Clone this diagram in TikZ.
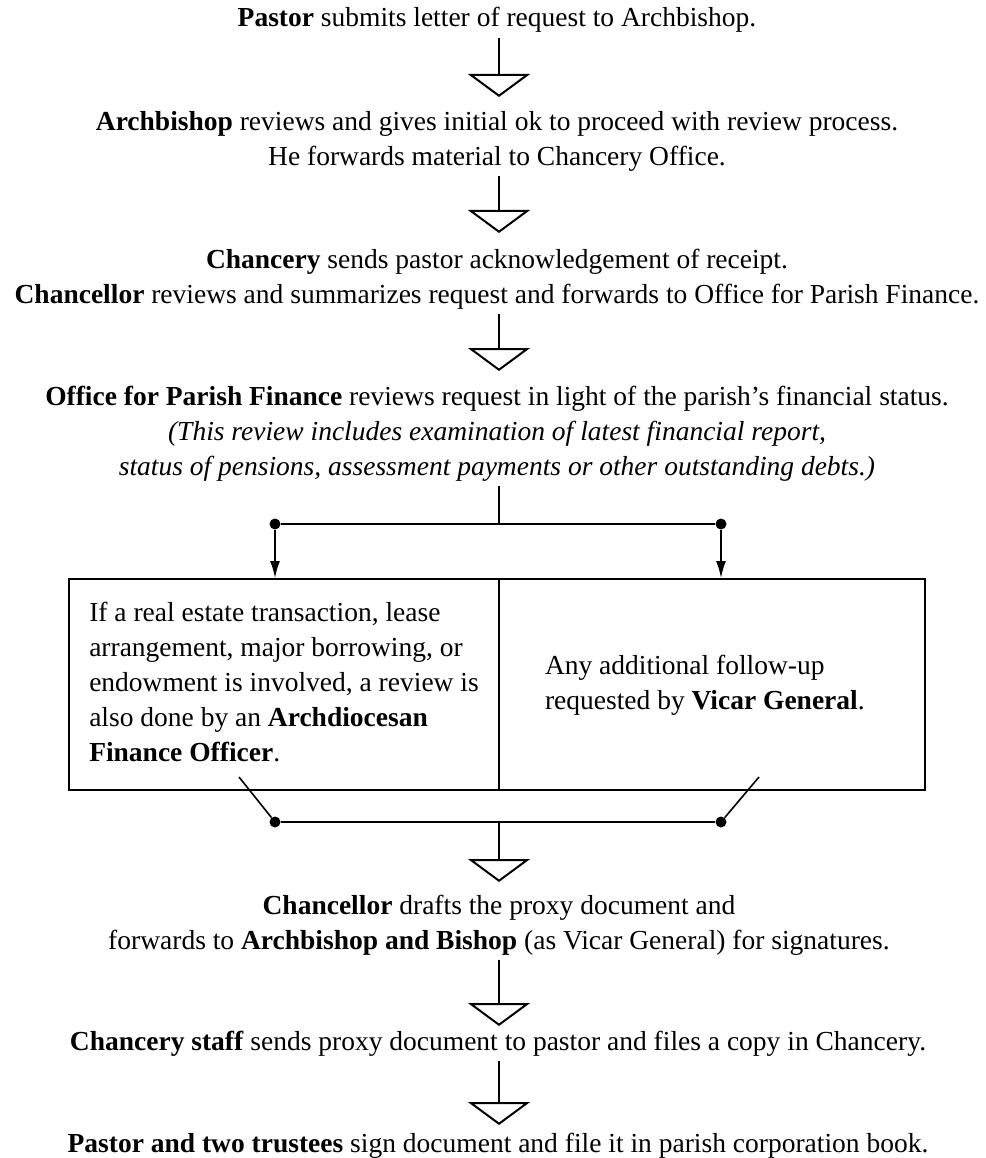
\documentclass[tikz,border=0pt]{standalone}
\usepackage{fontspec}
\setmainfont{Liberation Serif}
\usetikzlibrary{arrows.meta}
\begin{document}
\begin{tikzpicture}[x=1pt,y=-1pt,
  txt/.style={inner sep=0pt, align=center, font=\fontsize{27.5}{35}\selectfont},
  line/.style={line width=1.6pt},
  flow/.style={line width=1.6pt, -{Triangle[open,length=23pt,width=62pt,line width=2pt]}},
  down/.style={line width=1.6pt, -{Latex[length=17pt,width=10pt]}},
  dot/.style={circle, fill=black, inner sep=0pt, minimum size=11pt},
  cell/.style={draw, line width=2pt, inner sep=0pt, align=left, minimum height=211pt,
    font=\fontsize{27.5}{35}\selectfont}]
\useasboundingbox (0,0) rectangle (985,1158);

% text nodes
\node[txt] (n1) at (497,20) {\strut\textbf{Pastor} submits letter of request to Archbishop.};
\node[txt] (n2) at (497,141) {\strut\textbf{Archbishop} reviews and gives initial ok to proceed with review process.\\
  \strut He forwards material to Chancery Office.};
\node[txt] (n3) at (497,279) {\strut\textbf{Chancery} sends pastor acknowledgement of receipt.\\
  \strut\textbf{Chancellor} reviews and summarizes request and forwards to Office for Parish Finance.};
\node[txt] (n4) at (497,433) {\strut\textbf{Office for Parish Finance} reviews request in light of the parish's financial status.\\
  \strut\textit{(This review includes examination of latest financial report,}\\
  \strut\textit{status of pensions, assessment payments or other outstanding debts.)}};
\node[cell, minimum width=430pt] (L) at (284,684.5) {\strut If a real estate transaction, lease\\
  \strut arrangement, major borrowing, or\\
  \strut endowment is involved, a review is\\
  \strut also done by an \textbf{Archdiocesan}\\
  \strut\textbf{Finance Officer}.};
\node[cell, minimum width=426pt, text width=334pt, inner xsep=46pt, align=flush left] (R) at (712,684.5) {\strut Any additional follow-up\\
  \strut requested by \textbf{Vicar General}.};
\node[txt] (n5) at (499,924.5) {\strut\textbf{Chancellor} drafts the proxy document and\\
  \strut forwards to \textbf{Archbishop and Bishop} (as Vicar General) for signatures.};
\node[txt] (n6) at (498,1043) {\strut\textbf{Chancery staff} sends proxy document to pastor and files a copy in Chancery.};
\node[txt] (n7) at (498,1145) {\strut\textbf{Pastor and two trustees} sign document and file it in parish corporation book.};

% coordinates
\coordinate (t1) at (499,97);
\coordinate (t2) at (499,233);
\coordinate (t3) at (499,371);
\coordinate (j1) at (499,524);
\coordinate (ls) at (239,777);
\coordinate (rs) at (759,777);
\coordinate (j2) at (499,822);
\coordinate (t4) at (499,882);
\coordinate (t5) at (499,1026);
\coordinate (t6) at (499,1125);

\node[dot] (dA) at (275,524) {};
\node[dot] (dB) at (721,524) {};
\node[dot] (dC) at (275,822) {};
\node[dot] (dD) at (721,822) {};

% connectors
\draw[flow] (n1.south -| t1) -- (t1);
\draw[flow] (n2.south -| t2) -- (t2);
\draw[flow] (n3.south -| t3) -- (t3);
\draw[line] (n4.south -| j1) -- (j1);
\draw[line] (dA) -- (dB);
\draw[down] (dA) -- (dA |- L.north);
\draw[down] (dB) -- (dB |- R.north);
\draw[line] (ls) -- (dC);
\draw[line] (rs) -- (dD);
\draw[line] (dC) -- (dD);
\draw[flow] (j2) -- (t4);
\draw[flow] (n5.south -| t5) -- (t5);
\draw[flow] (n6.south -| t6) -- (t6);
\end{tikzpicture}
\end{document}
